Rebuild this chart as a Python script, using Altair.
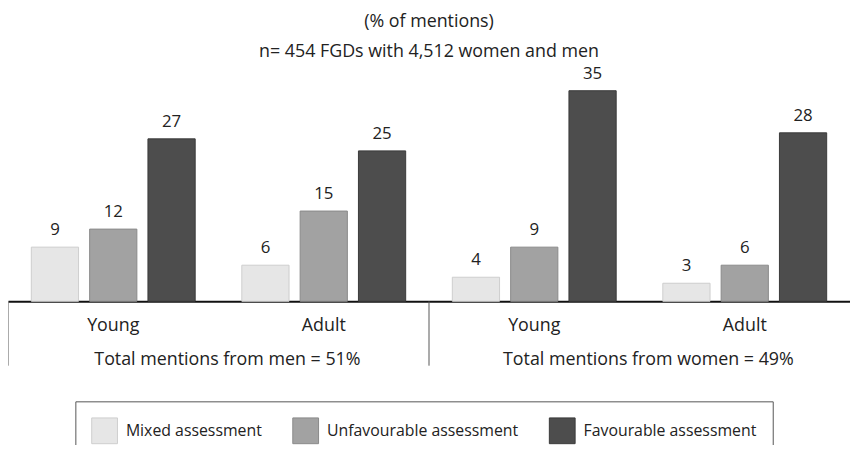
import altair as alt
import pandas as pd

groups = ["Men|Young", "Men|Adult", "Women|Young", "Women|Adult"]
categories = ["Mixed assessment", "Unfavourable assessment", "Favourable assessment"]
mixed = [9, 6, 4, 3]
unfavourable = [12, 15, 9, 6]
favourable = [27, 25, 35, 28]
total_anchor = ["Men|Adult", "Women|Adult"]
total_text = ["Total mentions from men = 51%", "Total mentions from women = 49%"]
separators = ["Men|Young", "Women|Young"]
title_lines = ["(% of mentions)", "n= 454 FGDs with 4,512 women and men"]

fills = ["#e6e6e6", "#a2a2a2", "#4d4d4d"]
strokes = ["#cdcdcd", "#8a8a8a", "#3a3a3a"]

rows = []
for i, g in enumerate(groups):
    for c, v in zip(categories, [mixed[i], unfavourable[i], favourable[i]]):
        rows.append({"group": g, "cat": c, "value": v})
df = pd.DataFrame(rows)
tot_df = pd.DataFrame({"group": total_anchor, "text": total_text})
sep_df = pd.DataFrame({"group": separators})

FONT = "Open Sans"
W, H = 850, 232

xs = alt.Scale(domain=groups, paddingInner=0, paddingOuter=0)
xo = alt.Scale(domain=categories, paddingInner=0.19, paddingOuter=0.4)
ys = alt.Scale(domain=[0, 38.2])

base = alt.Chart(df)

bars = base.mark_bar(strokeWidth=1).encode(
    x=alt.X("group:N", scale=xs, sort=groups,
            axis=alt.Axis(title=None, labelExpr="split(datum.label, '|')[1]",
                          ticks=False, labelPadding=15, labelFontSize=18,
                          labelFont=FONT, labelColor="#222", domainColor="#111",
                          domainWidth=2, labelAngle=0)),
    xOffset=alt.XOffset("cat:N", scale=xo, sort=categories),
    y=alt.Y("value:Q", scale=ys, axis=None),
    fill=alt.Fill("cat:N", sort=categories,
                  scale=alt.Scale(domain=categories, range=fills),
                  legend=alt.Legend(title=None, orient="none", legendX=68, legendY=333,
                                    direction="horizontal", symbolType="square",
                                    symbolSize=676, symbolStrokeColor="#bbbbbb",
                                    symbolStrokeWidth=1, labelFont=FONT,
                                    labelFontSize=16, labelColor="#222",
                                    labelOffset=8, columnPadding=28, padding=16,
                                    strokeColor="#555", labelLimit=300)),
    stroke=alt.Stroke("cat:N", sort=categories,
                      scale=alt.Scale(domain=categories, range=strokes), legend=None),
)

labels = base.mark_text(baseline="bottom", dy=-8, fontSize=17, font=FONT, color="#222").encode(
    x=alt.X("group:N", scale=xs, sort=groups),
    xOffset=alt.XOffset("cat:N", scale=xo, sort=categories),
    y=alt.Y("value:Q", scale=ys),
    text="value:Q",
)

seps = alt.Chart(sep_df).mark_rule(color="#555", strokeWidth=1).encode(
    x=alt.X("group:N", scale=xs, sort=groups, bandPosition=0),
    y=alt.value(H),
    y2=alt.value(H + 65),
)

totals = alt.Chart(tot_df).mark_text(fontSize=18, font=FONT, color="#222",
                                     baseline="middle", dx=9).encode(
    x=alt.X("group:N", scale=xs, sort=groups, bandPosition=0),
    y=alt.value(H + 59),
    text="text:N",
)

chart = alt.layer(bars, labels, seps, totals).properties(
    width=W, height=H,
    title=alt.TitleParams(text=title_lines, font=FONT, fontSize=18, fontWeight="normal",
                          color="#222", lineHeight=30, anchor="middle", offset=4),
    autosize=alt.AutoSizeParams(type="none"),
    padding={"left": 0, "right": 0, "top": 62, "bottom": 143},
).configure(background="white").configure_view(strokeWidth=0, stroke=None)

chart.save("out.html", embed_options={"renderer": "svg", "actions": False})
